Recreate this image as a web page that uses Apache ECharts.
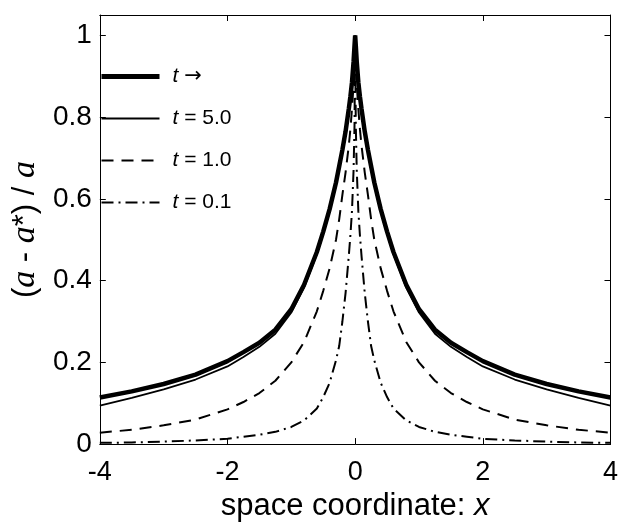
<!DOCTYPE html>
<html>
<head>
<meta charset="utf-8">
<script src="https://cdn.jsdelivr.net/npm/echarts@6/dist/echarts.min.js"></script>
<style>html,body{margin:0;padding:0;background:#fff;}#c{width:621px;height:527px;}</style>
</head>
<body>
<div id="c"></div>
<script>
// x positions (right half, curves are symmetric about x = 0)
var xHalf = [0, 0.01, 0.025, 0.05, 0.075, 0.1, 0.15, 0.2, 0.25, 0.3, 0.4, 0.5, 0.6, 0.8, 1.0, 1.25, 1.5, 1.75, 2.0, 2.5, 3.0, 3.5, 4.0];
// t -> infinity (thick)
var tInf = [1.0, 0.975, 0.935, 0.885, 0.85, 0.82, 0.765, 0.72, 0.68, 0.64, 0.575, 0.52, 0.47, 0.39, 0.33, 0.28, 0.248, 0.225, 0.203, 0.17, 0.147, 0.129, 0.114];
// t = 5.0
var t50 = [1.0, 0.975, 0.935, 0.882, 0.847, 0.815, 0.76, 0.715, 0.675, 0.635, 0.57, 0.515, 0.465, 0.383, 0.322, 0.27, 0.238, 0.213, 0.19, 0.158, 0.134, 0.113, 0.094];
// t = 1.0
var t10 = [1.0, 0.95, 0.88, 0.82, 0.77, 0.73, 0.665, 0.61, 0.55, 0.50, 0.43, 0.375, 0.325, 0.25, 0.20, 0.155, 0.125, 0.103, 0.085, 0.06, 0.046, 0.035, 0.028];
// t = 0.1
var t01 = [1.0, 0.78, 0.67, 0.57, 0.51, 0.46, 0.37, 0.30, 0.24, 0.205, 0.15, 0.115, 0.087, 0.058, 0.042, 0.03, 0.023, 0.018, 0.013, 0.009, 0.006, 0.004, 0.003];

var legendNames = ['{i|t} {a|\u2192}', '{i|t} = 5.0', '{i|t} = 1.0', '{i|t} = 0.1'];
var xTicks = [-4, -2, 0, 2, 4];
var yTicks = [0, 0.2, 0.4, 0.6, 0.8, 1];

function sym(xs, ys) {
  var out = [];
  for (var i = xs.length - 1; i > 0; i--) out.push([-xs[i], ys[i]]);
  for (var j = 0; j < xs.length; j++) out.push([xs[j], ys[j]]);
  return out;
}

var FONT = 'Liberation Sans';
var SERIF = 'Liberation Serif';
var chart = echarts.init(document.getElementById('c'), null, {renderer: 'canvas'});
function axisCommon() {
  return {
    axisLine: {show: true, onZero: false, lineStyle: {color: '#000', width: 1}},
    axisTick: {show: true, inside: true, length: 6, lineStyle: {color: '#000', width: 1}},
    splitLine: {show: false}
  };
}
function mk(name, data, width, type) {
  return {
    name: name, type: 'line', data: data, symbol: 'none', showSymbol: false, smooth: false,
    lineStyle: {color: '#000', width: width, type: type, cap: 'butt'},
    itemStyle: {color: '#000'},
    animation: false, clip: true
  };
}
chart.setOption({
  backgroundColor: '#fff',
  animation: false,
  grid: {left: 99, right: 3, top: 15, bottom: 76, containLabel: false},
  legend: {
    orient: 'vertical', left: 99, top: 66, padding: 0, itemWidth: 58, itemHeight: 20, itemGap: 21,
    data: [
      {name: legendNames[0], lineStyle: {width: 5}},
      {name: legendNames[1], lineStyle: {width: 2}},
      {name: legendNames[2], lineStyle: {width: 2}},
      {name: legendNames[3], lineStyle: {width: 2}}
    ],
    itemStyle: {opacity: 0, borderWidth: 0},
    textStyle: {fontFamily: FONT, fontSize: 21, lineHeight: 20, color: '#000', padding: [0, 0, 0, 8],
      rich: {
        i: {fontStyle: 'italic', fontFamily: FONT, fontSize: 21, lineHeight: 20, color: '#000'},
        a: {fontFamily: 'DejaVu Sans', fontSize: 21, lineHeight: 20, color: '#000'}
      }},
    selectedMode: false
  },
  xAxis: [Object.assign(axisCommon(), {
    type: 'value', min: -4, max: 4, interval: 2,
    name: '{n|space coordinate: }{i|x}', nameLocation: 'middle', nameGap: 46,
    nameTextStyle: {rich: {
      n: {fontFamily: FONT, fontSize: 31, color: '#000'},
      i: {fontFamily: FONT, fontSize: 31, fontStyle: 'italic', color: '#000'}}},
    axisLabel: {fontFamily: FONT, fontSize: 27, color: '#000', margin: 15,
      formatter: function (v) { return xTicks.indexOf(v) >= 0 ? String(v) : ''; }}
  }), Object.assign(axisCommon(), {
    type: 'value', min: -4, max: 4, interval: 2, position: 'top',
    axisLabel: {show: false}
  })],
  yAxis: [Object.assign(axisCommon(), {
    type: 'value', min: 0, max: 1.05, interval: 0.2,
    name: '({i|a} - {i|a}*) / {i|a}', nameLocation: 'middle', nameGap: 54, nameRotate: 90,
    nameTextStyle: {fontFamily: FONT, fontSize: 31, color: '#000', rich: {
      i: {fontFamily: SERIF, fontSize: 34, fontStyle: 'italic', color: '#000'}}},
    axisLabel: {fontFamily: FONT, fontSize: 28, color: '#000', margin: 8,
      formatter: function (v) {
        for (var k = 0; k < yTicks.length; k++) if (Math.abs(v - yTicks[k]) < 1e-6) return String(yTicks[k]);
        return '';
      }}
  }), Object.assign(axisCommon(), {
    type: 'value', min: 0, max: 1.05, interval: 0.2, position: 'right',
    axisLabel: {show: false}
  })],
  series: [
    mk(legendNames[0], sym(xHalf, tInf), 4.5, 'solid'),
    mk(legendNames[1], sym(xHalf, t50), 1.8, 'solid'),
    mk(legendNames[2], sym(xHalf, t10), 2, [12, 8]),
    mk(legendNames[3], sym(xHalf, t01), 2, [12, 5, 2, 5])
  ]
});
</script>
</body>
</html>
